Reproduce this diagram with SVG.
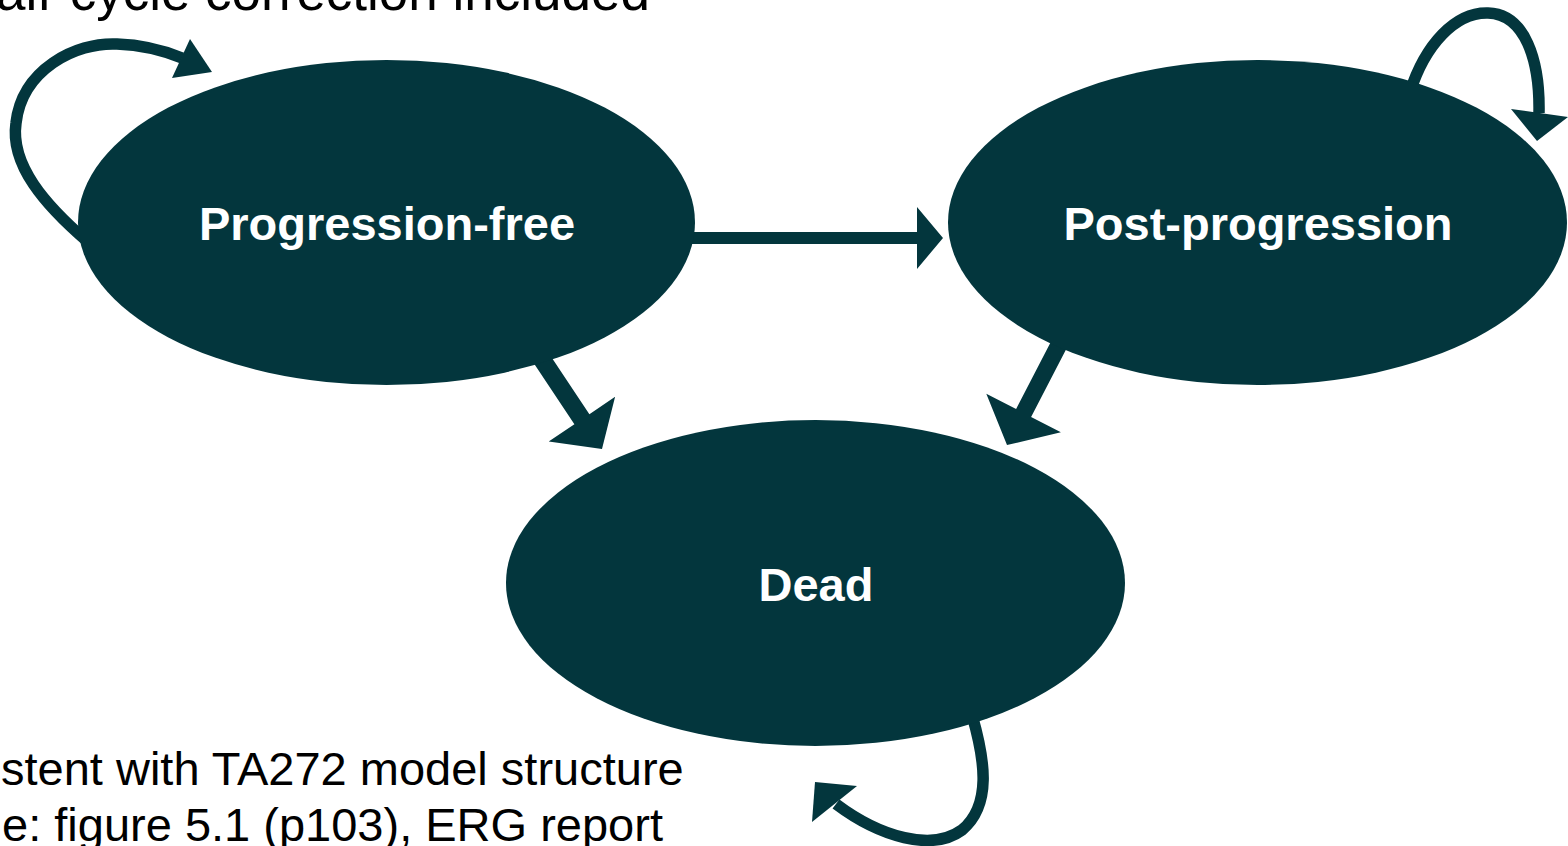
<svg xmlns="http://www.w3.org/2000/svg" width="1568" height="846" viewBox="0 0 1568 846">
<style>
.node{fill:#03363d}
.label{font-family:"Liberation Sans",Arial,sans-serif;font-weight:bold;font-size:47px;fill:#ffffff;text-anchor:middle}
.note{font-family:"Liberation Sans",Arial,sans-serif;font-size:47px;fill:#000000}
.head{fill:#03363d}
.loop{fill:none;stroke:#03363d;stroke-width:11.5}
</style>
<rect width="1568" height="846" fill="#ffffff"/>
<text class="note" x="-4" y="10" style="font-size:53px">alf-cycle correction included</text>
<text class="note" x="1" y="785">stent with TA272 model structure</text>
<text class="note" x="2" y="841">e: figure 5.1 (p103), ERG report</text>
<g id="connectors">
<polygon class="head" points="690,232 917,232 917,207 943,238 917,269 917,244 690,244"/>
<polygon class="head" points="537.5,336.3 589.4,414.2 615.1,396.8 602,449 548.7,441.6 574.4,424.2 522.5,346.3"/>
<polygon class="head" points="1072.5,336.9 1031.1,416.9 1060.9,432.3 1007,445 986.3,393.7 1016.1,409.1 1057.5,329.1"/>
<path class="loop" d="M 88 242 C 45 205, 10 165, 16 123 C 22 70, 75 42, 117 44 C 145 45, 165 51, 182 58"/>
<polygon class="head" points="190,39 212,72 172,78"/>
<path class="loop" d="M 1410 92 C 1425 45, 1455 12, 1488 13 C 1525 14, 1540 60, 1539 113"/>
<polygon class="head" points="1511,109 1568,117 1537,141"/>
<path class="loop" d="M 972 715 C 985 760, 992 805, 962 830 C 932 852, 880 837, 836 804"/>
<polygon class="head" points="857,786 815,782 812,822"/>
</g>
<g id="node-progression-free">
<ellipse class="node" cx="386.5" cy="222.5" rx="308.5" ry="162.5"/>
<text class="label" x="387" y="240">Progression-free</text>
</g>
<g id="node-post-progression">
<ellipse class="node" cx="1257.5" cy="222.5" rx="309.5" ry="162.5"/>
<text class="label" x="1258" y="240">Post-progression</text>
</g>
<g id="node-dead">
<ellipse class="node" cx="815.5" cy="583" rx="309.5" ry="163"/>
<text class="label" x="816" y="601">Dead</text>
</g>
</svg>
